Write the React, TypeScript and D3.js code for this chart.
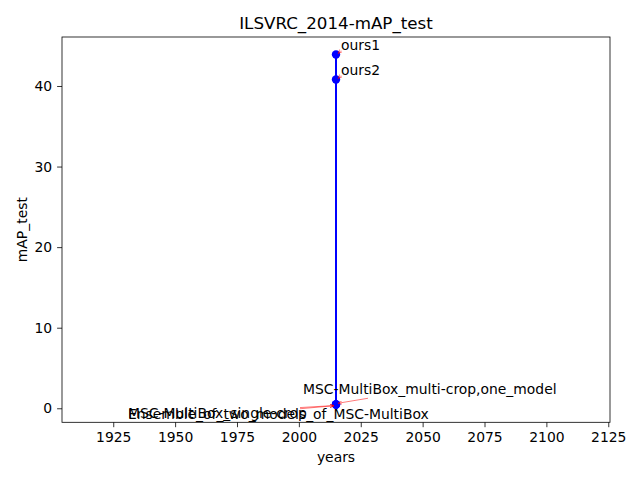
import { useEffect, useRef } from 'react';
import * as d3 from 'd3';

// chart data
const labels = [
  'ours1',
  'ours2',
  'MSC-MultiBox_multi-crop,one_model',
  'MSC-MultiBox_single-crop',
  'Ensemble_of_two_models_of_MSC-MultiBox',
];
const years = [2015, 2015, 2015, 2015, 2015];
const mapTest = [43.9, 40.8, 0.5, 0.44, 0.46];
const xTicks = [1925, 1950, 1975, 2000, 2025, 2050, 2075, 2100, 2125];
const yTicks = [0, 10, 20, 30, 40];

// annotation text offsets in px (text anchor relative to point)
const labelOffsets: [number, number][] = [
  [5, -5],
  [5, -5],
  [-33, -10],
  [-208, 13],
  [-208, 14],
];
// where the red arrows start, relative to the point
const arrowStarts: [number, number][] = [
  [5, -4],
  [5, -4],
  [32, -6],
  [-36, 4],
  [-36, 3],
];

const W = 640;
const H = 480;
const margin = { top: 37, right: 30, bottom: 57.7, left: 62 };

export default function App() {
  const svgRef = useRef<SVGSVGElement>(null);

  useEffect(() => {
    if (!svgRef.current) return;
    const svg = d3.select(svgRef.current);
    svg.selectAll('*').remove();

    const iw = W - margin.left - margin.right;
    const ih = H - margin.top - margin.bottom;

    const x = d3.scaleLinear().domain([1904.3, 2125.7]).range([0, iw]);
    const y = d3.scaleLinear().domain([-1.74, 46.08]).range([ih, 0]);

    svg.append('rect').attr('width', W).attr('height', H).attr('fill', '#fff');

    const defs = svg.append('defs');
    defs.append('marker')
      .attr('id', 'arrow')
      .attr('viewBox', '0 0 10 10')
      .attr('refX', 10)
      .attr('refY', 5)
      .attr('markerWidth', 6)
      .attr('markerHeight', 6)
      .attr('orient', 'auto')
      .append('path')
      .attr('d', 'M0,1 L10,5 L0,9')
      .attr('fill', 'none')
      .attr('stroke', 'red')
      .attr('stroke-width', 1.2);

    const g = svg.append('g')
      .attr('transform', `translate(${margin.left},${margin.top})`)
      .style('font-family', '"DejaVu Sans", sans-serif');

    // axes
    const xAxis = g.append('g')
      .attr('transform', `translate(0,${ih})`)
      .call(d3.axisBottom(x).tickValues(xTicks).tickSize(4.9).tickPadding(4.9).tickFormat(d3.format('d')));
    const yAxis = g.append('g')
      .call(d3.axisLeft(y).tickValues(yTicks).tickSize(4.9).tickPadding(4.9).tickFormat(d3.format('d')));
    [xAxis, yAxis].forEach((a) => {
      a.select('.domain').remove();
      a.selectAll('line').attr('stroke', '#000').attr('stroke-width', 0.8);
      a.selectAll('text').attr('fill', '#000').style('font-size', '13.9px').style('font-family', '"DejaVu Sans", sans-serif');
    });

    g.append('rect')
      .attr('width', iw)
      .attr('height', ih)
      .attr('fill', 'none')
      .attr('stroke', '#000')
      .attr('stroke-width', 0.8);

    // line and markers
    const pts = labels.map((l, i) => ({ l, x: years[i], y: mapTest[i], i }));
    const line = d3.line<{ x: number; y: number }>().x((d) => x(d.x)).y((d) => y(d.y));
    g.append('path')
      .datum(pts)
      .attr('d', line)
      .attr('fill', 'none')
      .attr('stroke', 'blue')
      .attr('stroke-width', 2);
    g.selectAll('.dot')
      .data(pts)
      .enter()
      .append('circle')
      .attr('cx', (d) => x(d.x))
      .attr('cy', (d) => y(d.y))
      .attr('r', 4.2)
      .attr('fill', 'blue');

    // annotations
    pts.forEach((d) => {
      const px = x(d.x);
      const py = y(d.y);
      const [ax, ay] = arrowStarts[d.i];
      g.append('line')
        .attr('x1', px + ax)
        .attr('y1', py + ay)
        .attr('x2', px + Math.sign(ax) * 2)
        .attr('y2', py + Math.sign(ay) * 1)
        .attr('stroke', 'red')
        .attr('stroke-opacity', 0.75)
        .attr('stroke-width', 0.7)
        .attr('marker-end', 'url(#arrow)');
      const [ox, oy] = labelOffsets[d.i];
      g.append('text')
        .attr('x', px + ox)
        .attr('y', py + oy)
        .attr('fill', '#000')
        .style('font-size', '13.9px')
        .text(d.l);
    });

    // titles
    svg.append('text')
      .attr('x', margin.left + iw / 2)
      .attr('y', 29)
      .attr('text-anchor', 'middle')
      .style('font-family', '"DejaVu Sans", sans-serif')
      .style('font-size', '16.7px')
      .text('ILSVRC_2014-mAP_test');
    svg.append('text')
      .attr('x', margin.left + iw / 2)
      .attr('y', 462)
      .attr('text-anchor', 'middle')
      .style('font-family', '"DejaVu Sans", sans-serif')
      .style('font-size', '13.9px')
      .text('years');
    svg.append('text')
      .attr('transform', `translate(27,${margin.top + ih / 2}) rotate(-90)`)
      .attr('text-anchor', 'middle')
      .style('font-family', '"DejaVu Sans", sans-serif')
      .style('font-size', '13.9px')
      .text('mAP_test');
  }, []);

  return (
    <div style={{ position: 'absolute', left: 0, top: 0 }}>
      <svg ref={svgRef} width={W} height={H} style={{ display: 'block' }} />
    </div>
  );
}
